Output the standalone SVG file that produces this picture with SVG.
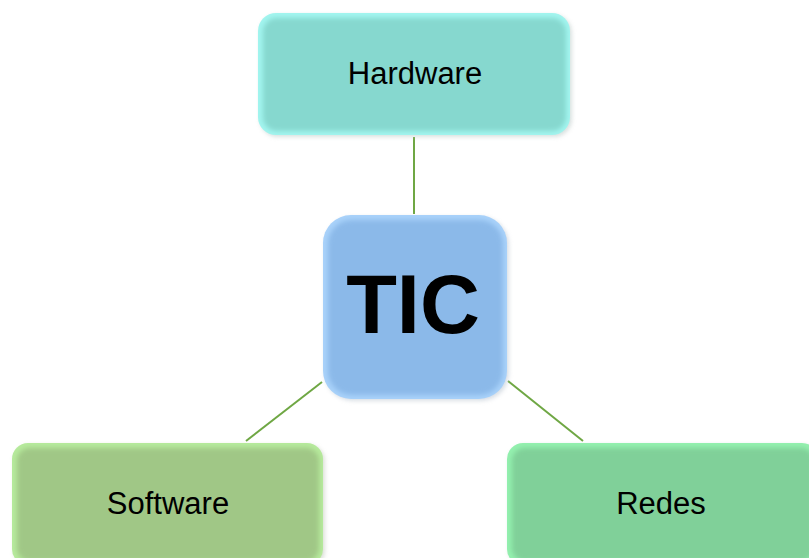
<svg xmlns="http://www.w3.org/2000/svg" width="809" height="558" viewBox="0 0 809 558">
  <style>
    .label { font-family: "Liberation Sans", Arial, sans-serif; fill: #000; text-anchor: middle; }
    .small { font-size: 31px; }
    .big { font-size: 83px; font-weight: bold; }
    .link { stroke: #6fa744; stroke-width: 2; fill: none; }
  </style>
  <defs>
    <filter id="soft" x="-10%" y="-10%" width="120%" height="120%">
      <feGaussianBlur stdDeviation="2.5"/>
    </filter>
    <filter id="shade" x="-10%" y="-10%" width="125%" height="125%">
      <feGaussianBlur stdDeviation="2"/>
    </filter>
  </defs>

  <rect width="809" height="558" fill="#ffffff"/>

  <g id="connectors">
    <line class="link" x1="414" y1="137" x2="414" y2="214"/>
    <line class="link" x1="322" y1="382" x2="246" y2="441"/>
    <line class="link" x1="508" y1="381" x2="583" y2="441"/>
  </g>

  <g id="hardware">
    <rect x="260" y="15" width="312" height="122" rx="18" fill="#b8c4c2" opacity="0.5" filter="url(#shade)"/>
    <rect x="258" y="13" width="312" height="122" rx="18" fill="#a2f5ef"/>
    <rect x="263" y="18" width="303" height="113" rx="14" fill="#86d8cf" filter="url(#soft)"/>
    <text class="label small" x="415" y="84">Hardware</text>
  </g>

  <g id="tic">
    <rect x="325" y="217" width="184" height="184" rx="28" fill="#b7c1cc" opacity="0.5" filter="url(#shade)"/>
    <rect x="323" y="215" width="184" height="184" rx="28" fill="#a9d2fa"/>
    <rect x="328" y="220" width="175" height="175" rx="24" fill="#8bb9e9" filter="url(#soft)"/>
    <text class="label big" x="413" y="333">TIC</text>
  </g>

  <g id="software">
    <rect x="14" y="445" width="311" height="122" rx="16" fill="#bcc4b6" opacity="0.5" filter="url(#shade)"/>
    <rect x="12" y="443" width="311" height="122" rx="16" fill="#b6ea9c"/>
    <rect x="17" y="448" width="302" height="113" rx="13" fill="#a0c786" filter="url(#soft)"/>
    <text class="label small" x="168" y="514">Software</text>
  </g>

  <g id="redes">
    <rect x="509" y="445" width="311" height="122" rx="16" fill="#b6c6bb" opacity="0.5" filter="url(#shade)"/>
    <rect x="507" y="443" width="311" height="122" rx="16" fill="#93f0ae"/>
    <rect x="512" y="448" width="302" height="113" rx="13" fill="#80d099" filter="url(#soft)"/>
    <text class="label small" x="661" y="514">Redes</text>
  </g>
</svg>
